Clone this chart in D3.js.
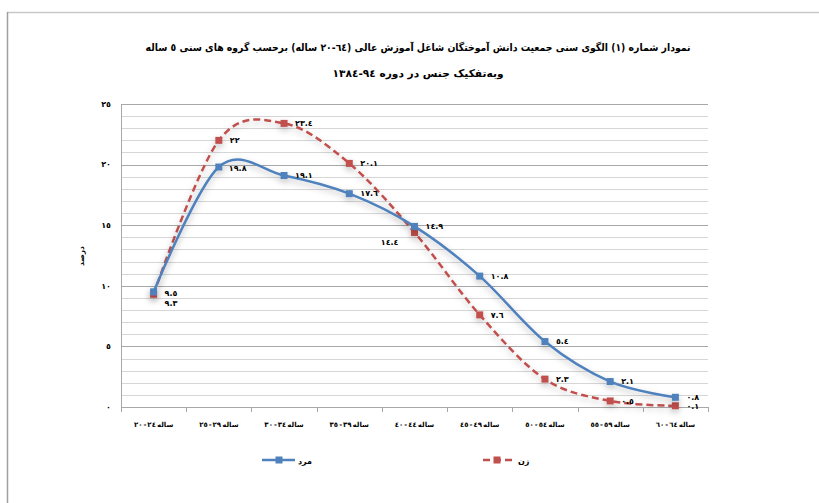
<!DOCTYPE html>
<html><head><meta charset="utf-8">
<script src="https://cdn.jsdelivr.net/npm/d3@7"></script>
<style>
body{margin:0;background:#fff}
text{font-family:"DejaVu Sans",sans-serif;font-weight:bold;fill:#000}
</style>
</head><body>
<svg id="c" width="819" height="503"></svg>
<script>
const categories = ["۲۰-۲۴ ساله","۲۵-۲۹ ساله","۳۰-۳۴ ساله","۳۵-۳۹ ساله","۴۰-۴۴ ساله","۴۵-۴۹ ساله","۵۰-۵۴ ساله","۵۵-۵۹ ساله","۶۰-۶۴ ساله"];
const men = [9.5, 19.8, 19.1, 17.6, 14.9, 10.8, 5.4, 2.1, 0.8];
const women = [9.3, 22, 23.4, 20.1, 14.4, 7.6, 2.3, 0.5, 0.1];
const yTicks = [0, 5, 10, 15, 20, 25];
const seriesNames = ["مرد", "زن"];
const titleLine1 = "نمودار شماره (١) الگوی سنی جمعیت دانش آموختگان شاغل آموزش عالی (٦٤-٢٠ ساله) برحسب گروه های سنی ٥ ساله";
const titleLine2 = "وبه‌تفکیک جنس در دوره ٩٤-١٣٨٤";
const yTitle = "درصد";

const AR = "٠١٢٣٤٥٦٧٨٩";
const toAr = s => String(s).replace(/[0-9]/g, d => AR[d]).replace(/[۰-۹]/g, d => AR[d.charCodeAt(0) - 0x06F0]);
const svg = d3.select("#c");

// lays tokens out left to right, each as its own text, centred on cx
function tokenRow(tokens, cx, cy, size, gap) {
  const gg = svg.append("g");
  let xp = 0;
  tokens.forEach((t, i) => {
    const te = gg.append("text").attr("x", xp).attr("y", 0).attr("dy", "0.35em").attr("font-size", size).text(t);
    xp += te.node().getComputedTextLength() + (i < tokens.length - 1 ? gap : 0);
  });
  gg.attr("transform", `translate(${cx - xp / 2},${cy})`);
  return gg;
}

// frame
svg.append("line").attr("x1",7).attr("x2",819).attr("y1",12.5).attr("y2",12.5).attr("stroke","#c8c8c8").attr("stroke-width",1.5);
svg.append("line").attr("x1",7.5).attr("x2",7.5).attr("y1",12).attr("y2",503).attr("stroke","#a0a0a0").attr("stroke-width",1.5);

const defs = svg.append("defs");
const f = defs.append("filter").attr("id","sh").attr("x","-20%").attr("y","-20%").attr("width","140%").attr("height","140%");
f.append("feDropShadow").attr("dx",0).attr("dy",3).attr("stdDeviation",3).attr("flood-color","#000").attr("flood-opacity",0.25);

const x = d3.scaleBand().domain(categories).range([121, 708]).padding(0);
const y = d3.scaleLinear().domain([0, 25]).range([407, 104]);
const cx = i => x(categories[i]) + x.bandwidth() / 2;

// gridlines
const g = svg.append("g");
for (let v = 1; v <= 25; v++) {
  g.append("line").attr("x1",121).attr("x2",708).attr("y1",Math.round(y(v))+0.5).attr("y2",Math.round(y(v))+0.5)
    .attr("stroke", v % 5 === 0 ? "#a8a8a8" : "#d6d6d6").attr("stroke-width",1);
}
// axes lines
svg.append("line").attr("x1",121.5).attr("x2",121.5).attr("y1",y(25)).attr("y2",411).attr("stroke","#a8a8a8");
svg.append("line").attr("x1",121).attr("x2",708).attr("y1",y(0)+0.5).attr("y2",y(0)+0.5).attr("stroke","#a8a8a8");
const bounds = categories.map(c => x(c)).concat([x(categories[categories.length-1]) + x.bandwidth()]);
bounds.forEach(b => svg.append("line").attr("x1",Math.round(b)+0.5).attr("x2",Math.round(b)+0.5).attr("y1",y(0)).attr("y2",y(0)+5).attr("stroke","#a8a8a8"));

// y tick labels
svg.selectAll(".yt").data(yTicks).join("text").attr("class","yt")
  .attr("x",111).attr("y",d=>y(d)).attr("dy","0.35em").attr("text-anchor","end")
  .attr("font-size",8).text(d=>toAr(d));

// x labels: number range on the left, word on the right
categories.forEach(c => {
  const [range, word] = c.split(" ");
  const [a, b] = range.split("-");
  tokenRow([toAr(a), "-", toAr(b), word], x(c) + x.bandwidth() / 2, 425, 7, 1);
});

// y title
svg.append("text").attr("transform","translate(81,256) rotate(-90)").attr("text-anchor","middle")
  .attr("dy","0.35em").attr("font-size",7.5).text(yTitle);

// title (right-to-left)
function titleText(str, cy, len) {
  svg.append("text").attr("x",418).attr("y",cy).attr("dy","0.35em").attr("text-anchor","middle")
    .attr("direction","rtl").style("direction","rtl").attr("font-size",10.5)
    .attr("textLength",len).attr("lengthAdjust","spacingAndGlyphs").text(str);
}
titleText(titleLine1, 47, 545);
titleText(titleLine2, 73, 171);

const line = d3.line().x((d,i)=>cx(i)).y(d=>y(d)).curve(d3.curveCardinal.tension(0));

const series = [
  {name: seriesNames[0], values: men, color: "#4f81bd", dash: null},
  {name: seriesNames[1], values: women, color: "#c0504d", dash: "7,4"}
];

[series[1], series[0]].forEach(s => {
  const sg = svg.append("g").attr("filter","url(#sh)");
  sg.append("path").attr("d", line(s.values)).attr("fill","none").attr("stroke",s.color)
    .attr("stroke-width",2.5).attr("stroke-dasharray",s.dash);
  sg.selectAll("rect").data(s.values).join("rect")
    .attr("x",(d,i)=>cx(i)-3.5).attr("y",d=>y(d)-3.5)
    .attr("width",7).attr("height",7).attr("fill",s.color);
});

// data labels
function lab(vals, offs) {
  vals.forEach((v,i) => {
    const o = offs[i] || {dx: 11, dy: 0, a: "start"};
    svg.append("text").attr("x", cx(i) + o.dx).attr("y", y(v) + o.dy)
      .attr("dy","0.35em").attr("text-anchor", o.a).attr("font-size",8).text(toAr(v));
  });
}
lab(men, {0:{dx:11,dy:1,a:"start"}, 1:{dx:10,dy:1,a:"start"}});
lab(women, {0:{dx:11,dy:9,a:"start"}, 4:{dx:-16,dy:10,a:"end"}});

// legend
const lg = [{x1:262,x2:295,mx:279,tx:298,s:series[0]},{x1:483,x2:513,mx:497,tx:518,s:series[1]}];
lg.forEach(l => {
  svg.append("line").attr("x1",l.x1).attr("x2",l.x2).attr("y1",460).attr("y2",460).attr("stroke",l.s.color)
    .attr("stroke-width",2.5).attr("stroke-dasharray",l.s.dash);
  svg.append("rect").attr("x",l.mx-3.5).attr("y",456.5).attr("width",7).attr("height",7).attr("fill",l.s.color);
  svg.append("text").attr("x",l.tx).attr("y",461).attr("dy","0.35em").attr("font-size",8).text(l.s.name);
});
</script>
</body></html>
